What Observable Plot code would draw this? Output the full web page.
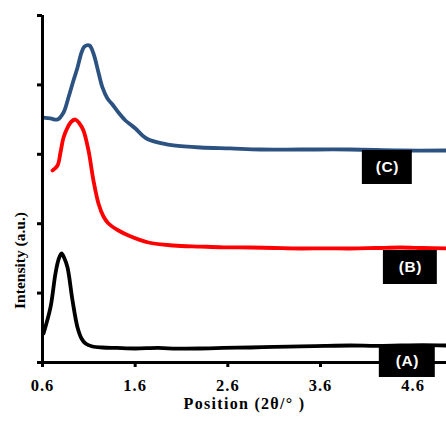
<!DOCTYPE html>
<html>
<head>
<meta charset="utf-8">
<script src="https://cdn.jsdelivr.net/npm/d3@7"></script>
<script src="https://cdn.jsdelivr.net/npm/@observablehq/plot@0.6"></script>
<style>
  html, body { margin: 0; padding: 0; background: #fff; overflow: hidden; }
  #chart svg { display: block; }
</style>
</head>
<body>
<div id="chart"></div>
<script>
// Series A (black)
const xA = [0.611,0.686,0.740,0.773,0.805,0.837,0.870,0.924,0.978,1.021,1.064,1.139,1.247,1.40,1.603,1.85,2.05,2.304,2.55,2.844,3.10,3.383,3.65,3.923,4.20,4.462,4.70,4.958];
const yA = [0.418,0.793,1.282,1.484,1.571,1.499,1.369,0.893,0.504,0.346,0.274,0.231,0.216,0.21,0.202,0.21,0.20,0.202,0.21,0.216,0.225,0.231,0.24,0.245,0.24,0.245,0.25,0.245];
// Series B (red)
const xB = [0.708,0.762,0.794,0.827,0.870,0.913,0.956,0.999,1.042,1.096,1.150,1.204,1.258,1.312,1.420,1.528,1.743,2.013,2.304,2.55,2.844,3.10,3.383,3.65,3.923,4.20,4.462,4.70,4.958];
const yB = [2.767,2.839,3.026,3.242,3.386,3.473,3.501,3.444,3.343,3.055,2.622,2.291,2.104,2.003,1.902,1.830,1.729,1.686,1.671,1.66,1.657,1.65,1.643,1.645,1.643,1.65,1.657,1.65,1.643];
// Series C (blue)
const xC = [0.611,0.686,0.762,0.827,0.880,0.934,0.978,1.021,1.053,1.107,1.150,1.204,1.247,1.301,1.355,1.420,1.495,1.549,1.603,1.679,1.743,1.894,2.013,2.304,2.628,2.952,3.383,3.923,4.462,4.958];
const yC = [3.530,3.516,3.501,3.602,3.818,4.063,4.251,4.467,4.553,4.568,4.452,4.179,3.963,3.804,3.718,3.602,3.487,3.429,3.372,3.271,3.213,3.156,3.127,3.098,3.084,3.069,3.069,3.069,3.055,3.055];

const xTicks = [0.6, 1.6, 2.6, 3.6, 4.6];
const yTicks = [0, 1, 2, 3, 4, 5];

// Label boxes (data coordinates)
const labelText = ["(C)", "(B)", "(A)"];
const labelX1 = [4.052, 4.279, 4.235];
const labelX2 = [4.591, 4.861, 4.839];
const labelY1 = [2.565, 1.124, -0.216];
const labelY2 = [3.055, 1.614, 0.259];

const xTitle = "Position (2\u03B8/\u00B0 )";
const yTitle = "Intensity (a.u.)";

const toRows = (xs, ys) => xs.map((x, i) => ({x, y: ys[i]}));
const A = toRows(xA, yA), B = toRows(xB, yB), C = toRows(xC, yC);
const labels = labelText.map((t, i) => ({t, x1: labelX1[i], x2: labelX2[i], y1: labelY1[i], y2: labelY2[i], xm: (labelX1[i] + labelX2[i]) / 2, ym: (labelY1[i] + labelY2[i]) / 2}));

const serif = "Liberation Serif";
const sans = "Liberation Sans";

const chart = Plot.plot({
  width: 446,
  height: 421,
  marginLeft: 42,
  marginRight: 0,
  marginTop: 15,
  marginBottom: 59,
  style: "font-family: 'Liberation Serif', serif; background: #fff;",
  x: {domain: [0.6, 4.96]},
  y: {domain: [0, 5]},
  marks: [
    Plot.line(A, {x: "x", y: "y", stroke: "#000", strokeWidth: 3.8, curve: "catmull-rom", strokeLinejoin: "round"}),
    Plot.line(B, {x: "x", y: "y", stroke: "#ff0000", strokeWidth: 3.8, curve: "catmull-rom", strokeLinejoin: "round"}),
    Plot.line(C, {x: "x", y: "y", stroke: "#2c5282", strokeWidth: 3.8, curve: "catmull-rom", strokeLinejoin: "round"}),
    Plot.ruleX([0.6], {stroke: "#000", strokeWidth: 3}),
    Plot.ruleY([0], {stroke: "#000", strokeWidth: 3}),
    Plot.axisX({ticks: xTicks, tickFormat: d3.format(".1f"), tickSize: 5, tickPadding: 12, strokeWidth: 3, fontSize: 16.5, fontWeight: "bold", fontFamily: serif, fill: "#000", label: null}),
    Plot.axisY({ticks: yTicks, tickFormat: () => "", tickSize: 5, strokeWidth: 3, label: null}),
    Plot.rect(labels, {x1: "x1", x2: "x2", y1: "y1", y2: "y2", fill: "#000", clip: false}),
    Plot.text(labels, {x: "xm", y: "ym", text: "t", fill: "#fff", fontSize: 15.5, fontWeight: "bold", fontFamily: sans}),
    Plot.text([xTitle], {frameAnchor: "bottom", dy: 46, fontSize: 16, fontWeight: "bold", fontFamily: serif, fill: "#000"}),
    Plot.text([yTitle], {x: 0.6, y: 1.47, dx: -22, rotate: -90, fontSize: 15.5, fontWeight: "bold", fontFamily: serif, fill: "#000"})
  ]
});
// widen the horizontal texts a little, as in the (stretched) original
d3.select(chart).selectAll("text").each(function () {
  const t = this.textContent;
  if (xTicks.map(d3.format(".1f")).includes(t)) d3.select(this).style("letter-spacing", "1px");
  if (t === xTitle) d3.select(this).style("letter-spacing", "1.3px");
  if (labelText.includes(t)) d3.select(this).style("letter-spacing", "0.5px");
});
document.getElementById("chart").appendChild(chart);
</script>
</body>
</html>
